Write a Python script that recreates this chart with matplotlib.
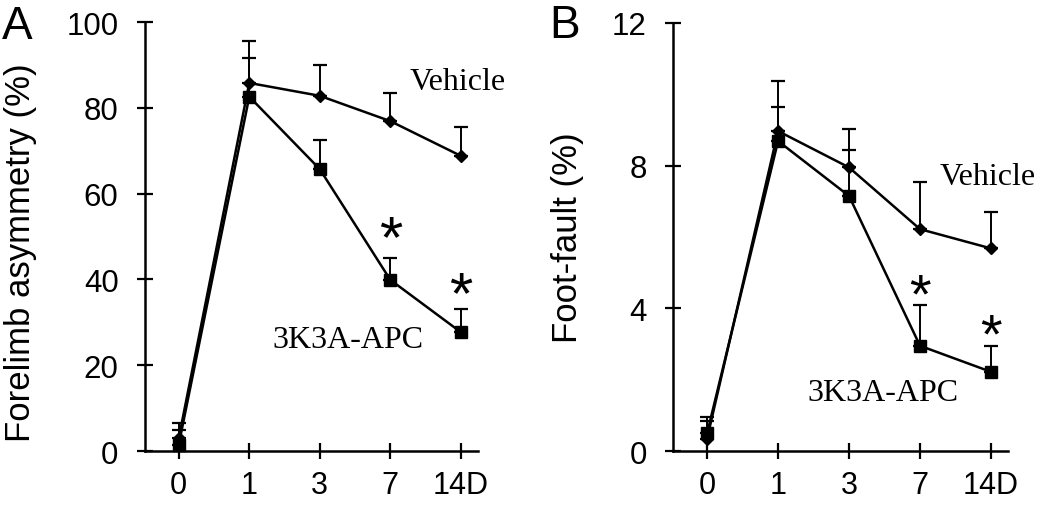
import matplotlib
matplotlib.use("Agg")
import matplotlib.pyplot as plt
import numpy as np

days = ["0", "1", "3", "7", "14D"]

# Panel A: forelimb asymmetry (%)
a_vehicle = [3.0, 85.8, 82.8, 76.9, 68.8]
a_vehicle_err = [3.5, 9.7, 7.2, 6.5, 6.7]
a_apc = [1.5, 82.6, 65.7, 39.9, 27.7]
a_apc_err = [3.5, 8.9, 6.9, 5.2, 5.4]

# Panel B: foot-fault (%)
b_vehicle = [0.35, 8.97, 7.95, 6.22, 5.68]
b_vehicle_err = [0.6, 1.40, 1.07, 1.32, 1.03]
b_apc = [0.5, 8.69, 7.15, 2.95, 2.22]
b_apc_err = [0.35, 0.96, 1.29, 1.14, 0.73]

sans = "Liberation Sans"
serif = "Liberation Serif"

fig = plt.figure(figsize=(10.5, 5.06), dpi=100)
W, H = 1050.0, 506.0

def panel(rect, yl, ylim, yticks, veh, veh_err, apc, apc_err,
          star_y, star_fs, veh_lab, apc_lab, letter, letter_px, ylab_px):
    ax = fig.add_axes(rect)
    x = np.arange(len(days))
    ax.errorbar(x, veh, yerr=[np.zeros(len(veh)), veh_err], color="black",
                lw=1.8, marker="D", markersize=6.5, capsize=4.7, capthick=1.6,
                elinewidth=1.4, clip_on=False, zorder=3)
    ax.errorbar(x, apc, yerr=[np.zeros(len(apc)), apc_err], color="black",
                lw=1.8, marker="s", markersize=8, capsize=4.7, capthick=1.6,
                elinewidth=1.4, clip_on=False, zorder=3)
    for xi, yi in zip([3, 4], star_y):
        ax.annotate("*", (xi, yi), xytext=(0, -0.5 * star_fs),
                    textcoords="offset points", ha="center", va="baseline",
                    fontsize=star_fs, family=sans)
    ax.text(veh_lab[0], veh_lab[1], "Vehicle", family=serif, fontsize=23,
            ha="left", va="center")
    ax.text(apc_lab[0], apc_lab[1], "3K3A-APC", family=serif, fontsize=23,
            ha="left", va="center")
    ax.set_xlim(-0.48, 4.24)
    ax.set_ylim(*ylim)
    ax.set_xticks(x)
    ax.set_xticklabels(days)
    ax.set_yticks(yticks)
    for s in ["top", "right"]:
        ax.spines[s].set_visible(False)
    for s in ["left", "bottom"]:
        ax.spines[s].set_linewidth(1.8)
    ax.tick_params(direction="inout", length=12, width=1.6, labelsize=22.5)
    ax.tick_params(axis="x", pad=8, labelsize=22)
    ax.tick_params(axis="y", pad=13)
    for lab in ax.get_xticklabels() + ax.get_yticklabels():
        lab.set_family(sans)
    fig.text(ylab_px[0] / W, 1 - ylab_px[1] / H, yl, family=sans,
             fontsize=25, rotation=90, ha="center", va="center")
    fig.text(letter_px[0] / W, 1 - letter_px[1] / H, letter, family=sans,
             fontsize=33, ha="left", va="top")
    return ax

panel([0.138, 0.1067, 0.317, 0.8478], "Forelimb asymmetry (%)", (0, 100),
      [0, 20, 40, 60, 80, 100], a_vehicle, a_vehicle_err, a_apc, a_apc_err,
      [52.4, 39.3], 43, (3.28, 86.2), (1.33, 26.1), "A", (2, 5), (20.5, 253))
panel([0.641, 0.1067, 0.319, 0.8459], "Foot-fault (%)", (0, 12),
      [0, 4, 8, 12], b_vehicle, b_vehicle_err, b_apc, b_apc_err,
      [4.68, 3.56], 40, (3.27, 7.7), (1.41, 1.65), "B", (549, 4), (567.5, 238))

fig.savefig("out.png", dpi=100)
